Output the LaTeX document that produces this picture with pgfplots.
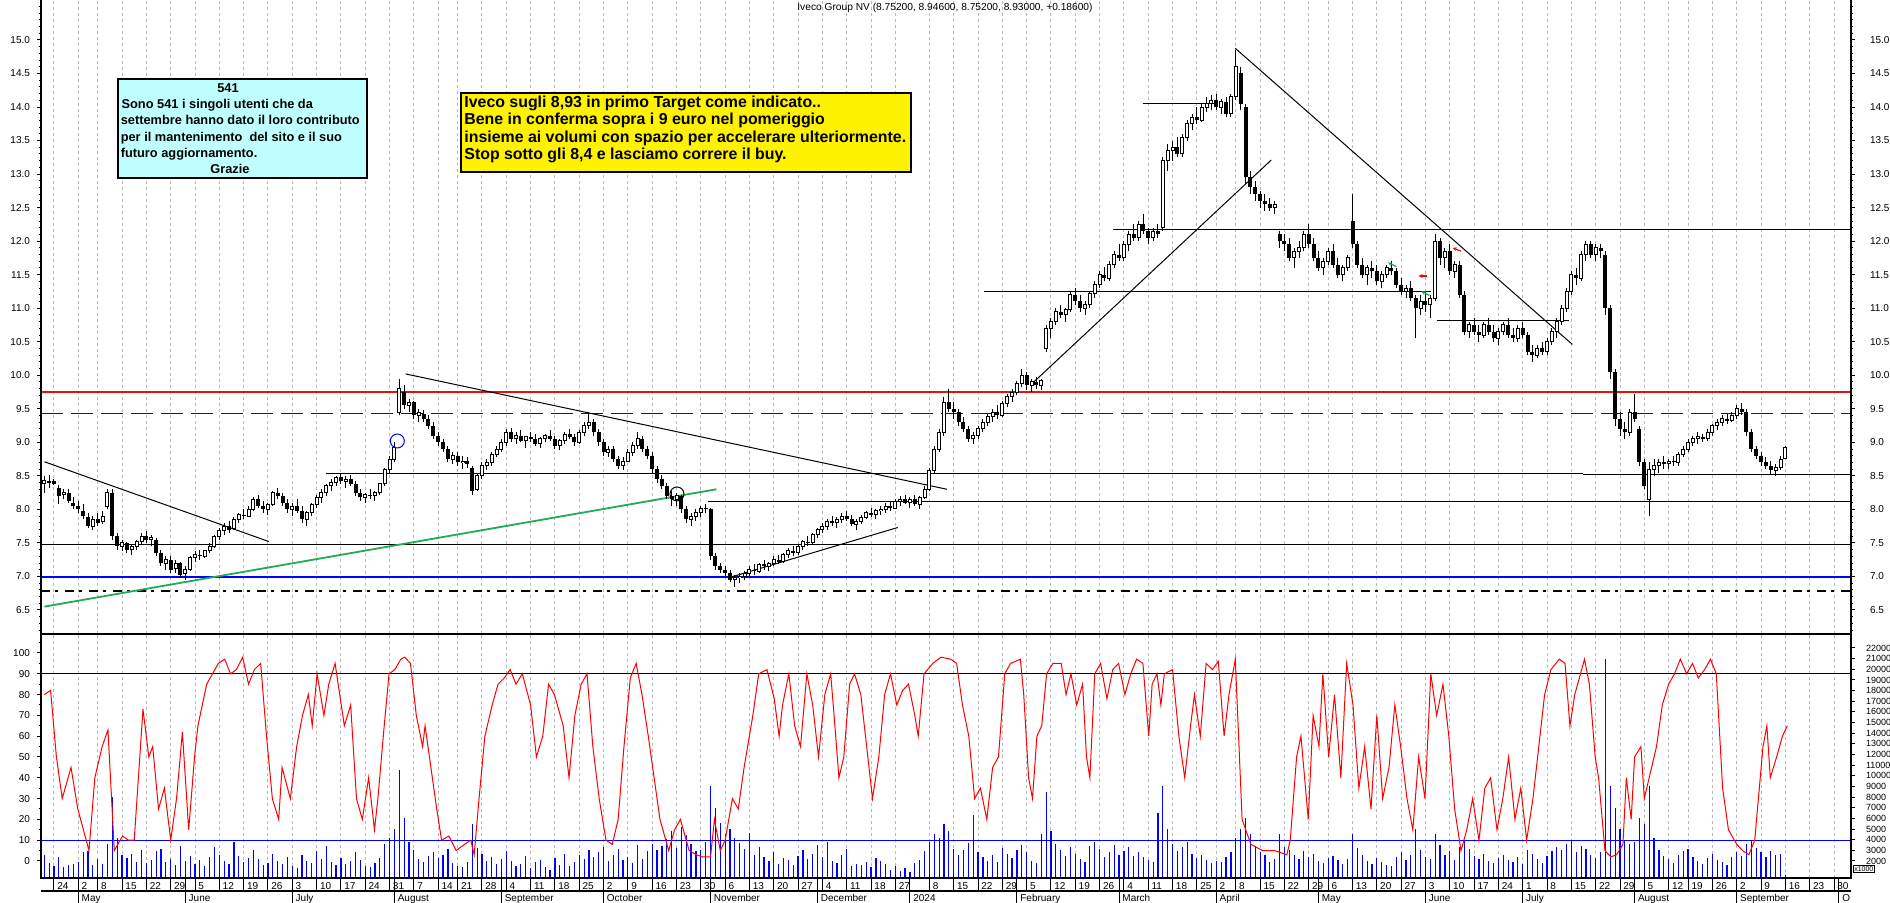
\documentclass[border=0pt]{standalone}
\usepackage{fontspec}
\setmainfont{Liberation Sans}
\usepackage{pgfplots}
\usepackage{pgfplotstable}
\pgfplotsset{compat=1.18}
\usetikzlibrary{arrows.meta}

\definecolor{boxcyan}{RGB}{192,255,255}
\definecolor{trendgreen}{RGB}{34,170,85}
\definecolor{gridgray}{RGB}{185,185,185}
\definecolor{hred}{RGB}{225,20,20}

% daily candles: d o h l c v  (d is shifted by +1 when plotted)
\pgfplotstableread{
d o h l c v
-3 8.38 8.50 8.25 8.43 2600
-2 8.43 8.52 8.32 8.40 1800
-1 8.42 8.46 8.36 8.38 1500
0 8.32 8.36 8.08 8.20 2400
1 8.22 8.30 8.15 8.25 1400
2 8.25 8.30 8.10 8.12 1600
3 8.10 8.18 8.00 8.05 1700
4 8.05 8.12 7.95 8.00 1900
5 7.98 8.08 7.85 7.90 2800
6 7.88 7.95 7.72 7.75 2900
7 7.75 7.90 7.70 7.85 1600
8 7.85 7.95 7.75 7.80 2200
9 7.82 7.98 7.78 7.90 1700
10 8.05 8.30 8.00 8.25 3600
11 8.25 8.30 7.55 7.60 8000
12 7.60 7.65 7.40 7.45 4200
13 7.45 7.55 7.38 7.50 2600
14 7.50 7.52 7.35 7.40 2300
15 7.40 7.48 7.32 7.45 2700
16 7.45 7.55 7.40 7.52 1900
17 7.52 7.65 7.48 7.60 3000
18 7.60 7.68 7.50 7.55 1800
19 7.55 7.62 7.45 7.58 2100
20 7.55 7.58 7.30 7.35 2900
21 7.35 7.40 7.15 7.20 3100
22 7.20 7.30 7.10 7.25 1900
23 7.25 7.30 7.05 7.10 2200
24 7.12 7.25 7.05 7.20 1600
25 7.20 7.22 6.98 7.02 3400
26 7.05 7.15 6.95 7.10 2000
27 7.10 7.30 7.08 7.28 2500
28 7.28 7.38 7.22 7.32 1700
29 7.32 7.40 7.25 7.30 2100
30 7.30 7.40 7.28 7.38 1500
31 7.38 7.50 7.35 7.45 2400
32 7.45 7.62 7.42 7.60 3300
33 7.60 7.72 7.55 7.68 2600
34 7.68 7.80 7.62 7.75 2000
35 7.75 7.82 7.65 7.70 1700
36 7.72 7.88 7.70 7.85 3800
37 7.85 7.95 7.80 7.92 2500
38 7.92 8.00 7.85 7.90 1900
39 7.90 8.05 7.88 8.00 2300
40 8.00 8.18 7.98 8.15 3000
41 8.15 8.22 8.02 8.05 2200
42 8.05 8.12 7.95 8.00 1600
43 8.00 8.10 7.92 8.08 1800
44 8.08 8.28 8.05 8.25 2700
45 8.25 8.32 8.15 8.20 2000
46 8.20 8.25 8.05 8.10 1700
47 8.10 8.15 7.95 8.00 2400
48 8.00 8.10 7.90 8.05 1500
49 8.05 8.15 7.95 7.98 1300
50 7.98 8.05 7.80 7.85 2600
51 7.85 7.98 7.75 7.95 2000
52 7.95 8.10 7.90 8.08 1800
53 8.08 8.22 8.02 8.18 2900
54 8.18 8.30 8.10 8.25 2200
55 8.25 8.38 8.20 8.35 3400
56 8.35 8.45 8.28 8.40 1900
57 8.40 8.50 8.35 8.48 1600
58 8.48 8.55 8.38 8.42 2300
59 8.42 8.50 8.32 8.45 1700
60 8.45 8.52 8.35 8.38 2000
61 8.38 8.42 8.20 8.25 2800
62 8.25 8.30 8.12 8.18 2100
63 8.18 8.25 8.10 8.22 1500
64 8.22 8.30 8.15 8.20 1400
65 8.20 8.28 8.12 8.25 1800
66 8.25 8.40 8.22 8.38 2300
67 8.38 8.62 8.35 8.60 3600
68 8.60 8.80 8.55 8.75 4200
69 8.75 9.00 8.70 8.92 5000
70 9.45 9.95 9.40 9.80 10500
71 9.75 9.85 9.50 9.55 6000
72 9.55 9.65 9.45 9.60 3800
73 9.60 9.62 9.35 9.40 3000
74 9.40 9.50 9.30 9.45 2200
75 9.42 9.48 9.30 9.35 1900
76 9.35 9.40 9.20 9.25 2500
77 9.25 9.30 9.05 9.10 2800
78 9.10 9.15 8.95 9.00 2300
79 9.00 9.05 8.85 8.90 2600
80 8.90 8.95 8.70 8.75 3100
81 8.75 8.85 8.68 8.80 1800
82 8.80 8.85 8.65 8.70 1500
83 8.70 8.80 8.60 8.72 1400
84 8.72 8.78 8.62 8.68 1900
85 8.62 8.65 8.22 8.28 5500
86 8.30 8.55 8.28 8.50 3200
87 8.50 8.70 8.45 8.65 2700
88 8.65 8.75 8.58 8.70 2000
89 8.70 8.85 8.65 8.82 2400
90 8.82 8.95 8.78 8.90 1700
91 8.90 9.05 8.85 9.00 2200
92 9.00 9.20 8.95 9.15 2900
93 9.15 9.22 9.00 9.05 2000
94 9.05 9.15 8.98 9.10 1500
95 9.10 9.18 9.00 9.02 1700
96 9.02 9.10 8.92 9.08 2500
97 9.08 9.15 9.00 9.05 1300
98 9.05 9.12 8.95 8.98 1900
99 8.98 9.08 8.92 9.05 2100
100 9.05 9.12 9.00 9.10 1400
101 9.10 9.18 9.02 9.05 1200
102 9.05 9.10 8.90 8.95 2300
103 8.95 9.05 8.88 9.02 1600
104 9.02 9.15 8.98 9.12 2700
105 9.12 9.20 9.05 9.08 1500
106 9.08 9.12 8.95 9.00 1900
107 9.00 9.18 8.98 9.15 2600
108 9.15 9.30 9.10 9.25 2200
109 9.25 9.45 9.20 9.30 3000
110 9.30 9.35 9.10 9.15 2400
111 9.15 9.20 8.95 9.00 2800
112 9.00 9.05 8.80 8.85 3300
113 8.85 8.95 8.78 8.90 2000
114 8.90 8.95 8.70 8.75 2600
115 8.75 8.80 8.60 8.65 3100
116 8.65 8.78 8.58 8.72 2100
117 8.72 8.90 8.70 8.85 2400
118 8.85 9.00 8.80 8.95 1800
119 8.95 9.15 8.90 9.05 3500
120 9.05 9.10 8.85 8.90 2200
121 8.90 8.95 8.75 8.80 2900
122 8.80 8.85 8.55 8.60 3600
123 8.60 8.65 8.40 8.45 3000
124 8.45 8.52 8.30 8.35 3400
125 8.35 8.40 8.15 8.20 4100
126 8.20 8.28 8.05 8.15 4800
127 8.15 8.25 8.05 8.20 3200
128 8.20 8.22 7.95 8.00 5200
129 8.00 8.05 7.80 7.85 4400
130 7.85 7.95 7.75 7.90 3600
131 7.90 8.00 7.82 7.95 2900
132 7.95 8.05 7.88 8.02 3000
133 8.02 8.08 7.95 8.00 3800
134 8.00 8.02 7.25 7.30 9000
135 7.30 7.35 7.10 7.15 7000
136 7.15 7.20 7.05 7.10 5600
137 7.10 7.15 7.00 7.05 4500
138 7.05 7.10 6.92 6.95 5000
139 6.95 7.02 6.85 6.98 4200
140 6.98 7.05 6.90 7.00 3700
141 7.00 7.08 6.95 7.05 3100
142 7.05 7.15 7.00 7.10 4600
143 7.10 7.18 7.02 7.08 2600
144 7.08 7.20 7.05 7.18 3300
145 7.18 7.25 7.10 7.15 2400
146 7.15 7.22 7.08 7.20 2000
147 7.20 7.30 7.15 7.25 2800
148 7.25 7.32 7.18 7.22 1700
149 7.22 7.35 7.20 7.32 2300
150 7.32 7.42 7.28 7.38 2100
151 7.38 7.45 7.30 7.35 1600
152 7.35 7.48 7.32 7.45 2500
153 7.45 7.55 7.40 7.52 3000
154 7.52 7.60 7.45 7.50 2200
155 7.50 7.65 7.48 7.62 2700
156 7.62 7.72 7.58 7.70 3500
157 7.70 7.80 7.65 7.75 2400
158 7.75 7.85 7.70 7.82 3800
159 7.82 7.90 7.75 7.80 2000
160 7.80 7.88 7.72 7.85 1800
161 7.85 7.95 7.80 7.90 2600
162 7.90 7.98 7.82 7.85 3100
163 7.85 7.92 7.75 7.78 1500
164 7.78 7.85 7.70 7.82 1700
165 7.82 7.92 7.78 7.88 1600
166 7.88 7.98 7.85 7.95 1900
167 7.95 8.02 7.88 7.92 1400
168 7.92 8.00 7.85 7.98 2300
169 7.98 8.05 7.92 8.00 2000
170 8.00 8.10 7.95 8.05 1700
171 8.05 8.12 7.98 8.02 1200
172 8.02 8.15 8.00 8.12 1500
173 8.12 8.20 8.05 8.15 1100
174 8.15 8.22 8.08 8.10 1300
175 8.10 8.18 8.02 8.15 1000
176 8.15 8.22 8.05 8.08 1800
177 8.08 8.20 8.00 8.18 2100
178 8.18 8.35 8.15 8.30 2900
179 8.30 8.62 8.28 8.58 3800
180 8.58 8.95 8.55 8.90 4500
181 8.90 9.20 8.85 9.15 4200
182 9.15 9.68 9.10 9.60 5500
183 9.60 9.80 9.45 9.50 4800
184 9.50 9.60 9.35 9.45 3100
185 9.45 9.50 9.25 9.30 2600
186 9.30 9.38 9.15 9.20 3000
187 9.20 9.25 9.00 9.05 3700
188 9.05 9.15 8.98 9.10 6300
189 9.10 9.25 9.05 9.20 2800
190 9.20 9.35 9.15 9.30 2400
191 9.30 9.42 9.25 9.38 2000
192 9.38 9.50 9.30 9.45 2600
193 9.45 9.55 9.35 9.40 1900
194 9.40 9.62 9.38 9.58 3200
195 9.58 9.72 9.52 9.68 2700
196 9.68 9.80 9.60 9.75 2300
197 9.75 9.92 9.70 9.88 3000
198 9.88 10.10 9.82 10.00 3500
199 10.00 10.05 9.78 9.85 2800
200 9.85 9.95 9.75 9.90 2000
201 9.90 9.98 9.80 9.85 1800
202 9.85 9.95 9.78 9.92 4500
203 10.40 10.75 10.35 10.70 8500
204 10.70 10.85 10.55 10.80 4800
205 10.80 11.00 10.75 10.95 3600
206 10.95 11.05 10.85 10.90 3000
207 10.90 11.00 10.80 10.98 2500
208 10.98 11.25 10.95 11.20 3300
209 11.20 11.30 11.05 11.10 2700
210 11.10 11.20 10.95 11.00 2200
211 11.00 11.10 10.90 11.05 1900
212 11.05 11.25 11.00 11.22 3400
213 11.22 11.40 11.15 11.35 3800
214 11.35 11.55 11.30 11.50 3100
215 11.50 11.62 11.40 11.45 2400
216 11.45 11.70 11.40 11.65 2800
217 11.65 11.85 11.60 11.80 3500
218 11.80 11.95 11.70 11.75 2600
219 11.75 12.00 11.70 11.95 2900
220 11.95 12.15 11.85 12.10 3300
221 12.10 12.25 12.00 12.05 2500
222 12.05 12.30 12.00 12.25 2800
223 12.25 12.40 12.10 12.15 2400
224 12.15 12.20 11.95 12.05 2100
225 12.05 12.20 12.00 12.15 1900
226 12.15 12.25 12.05 12.10 6500
227 12.20 13.25 12.15 13.20 9000
228 13.20 13.45 13.05 13.35 5000
229 13.35 13.50 13.20 13.40 3600
230 13.40 13.55 13.25 13.30 2900
231 13.30 13.60 13.25 13.55 3300
232 13.55 13.80 13.50 13.75 3800
233 13.75 13.90 13.65 13.85 2700
234 13.85 14.00 13.75 13.80 2300
235 13.80 14.05 13.78 14.00 2600
236 14.00 14.15 13.92 14.05 2100
237 14.05 14.18 13.95 14.10 1800
238 14.10 14.20 13.95 14.00 2000
239 14.00 14.12 13.90 14.08 1900
240 14.08 14.15 13.85 13.90 2400
241 13.90 14.20 13.85 14.15 2800
242 14.15 14.85 14.10 14.60 4200
243 14.50 14.60 13.95 14.05 5000
244 14.00 14.05 12.85 12.95 6000
245 12.95 13.05 12.70 12.80 4500
246 12.80 12.90 12.60 12.70 3400
247 12.70 12.75 12.50 12.60 2800
248 12.60 12.70 12.45 12.55 2600
249 12.55 12.65 12.45 12.50 1900
250 12.50 12.60 12.40 12.55 2200
251 12.10 12.15 11.90 12.00 4500
252 12.00 12.10 11.85 11.95 3300
253 11.95 12.05 11.70 11.75 3000
254 11.75 11.90 11.60 11.85 2600
255 11.85 12.00 11.75 11.90 2200
256 11.90 12.15 11.85 12.10 2900
257 12.10 12.25 11.90 11.95 2400
258 11.95 12.05 11.70 11.75 2700
259 11.75 11.85 11.55 11.60 2000
260 11.60 11.75 11.50 11.70 1800
261 11.70 11.90 11.65 11.85 2300
262 11.85 11.95 11.60 11.65 2500
263 11.65 11.75 11.45 11.50 2100
264 11.50 11.65 11.40 11.60 1700
265 11.60 11.80 11.55 11.75 2200
266 12.30 12.70 11.90 11.95 4500
267 11.95 12.00 11.60 11.65 3200
268 11.65 11.75 11.45 11.50 2600
269 11.50 11.65 11.35 11.60 2000
270 11.60 11.70 11.45 11.55 1700
271 11.55 11.65 11.35 11.40 2300
272 11.40 11.55 11.30 11.50 1900
273 11.50 11.65 11.45 11.60 1600
274 11.60 11.70 11.50 11.55 1500
275 11.55 11.60 11.30 11.35 2400
276 11.35 11.45 11.20 11.25 2800
277 11.25 11.35 11.15 11.30 2100
278 11.30 11.40 11.10 11.15 2600
279 11.15 11.20 10.55 11.00 5000
280 11.00 11.20 10.90 11.10 3000
281 11.10 11.25 10.95 11.05 2400
282 11.05 11.20 10.85 11.15 2200
283 11.15 12.10 11.10 12.00 4500
284 12.00 12.05 11.65 11.75 3500
285 11.75 11.90 11.60 11.85 2600
286 11.85 11.95 11.50 11.55 2900
287 11.55 11.70 11.45 11.65 2100
288 11.65 11.70 11.15 11.20 3300
289 11.20 11.25 10.60 10.65 4000
290 10.65 10.80 10.55 10.75 3100
291 10.75 10.85 10.60 10.65 2500
292 10.65 10.75 10.50 10.60 2200
293 10.60 10.80 10.55 10.75 2700
294 10.75 10.85 10.60 10.65 2000
295 10.65 10.75 10.50 10.55 1800
296 10.55 10.70 10.45 10.65 2300
297 10.65 10.80 10.60 10.75 2600
298 10.75 10.85 10.55 10.60 2100
299 10.60 10.70 10.50 10.55 1900
300 10.55 10.75 10.50 10.70 2400
301 10.70 10.80 10.55 10.60 1700
302 10.60 10.65 10.30 10.35 3000
303 10.35 10.45 10.20 10.30 2700
304 10.30 10.45 10.25 10.40 2200
305 10.40 10.50 10.30 10.35 1800
306 10.35 10.55 10.30 10.50 2500
307 10.50 10.70 10.45 10.65 2900
308 10.65 10.85 10.55 10.80 3300
309 10.80 11.05 10.75 11.00 3000
310 11.00 11.30 10.95 11.25 3600
311 11.25 11.55 11.20 11.50 3900
312 11.50 11.60 11.35 11.45 2800
313 11.45 11.85 11.40 11.80 3400
314 11.80 12.00 11.70 11.95 3100
315 11.95 12.00 11.75 11.80 2600
316 11.80 11.95 11.70 11.90 2300
317 11.90 11.95 11.75 11.85 2800
318 11.80 11.85 10.90 11.00 21000
319 11.00 11.05 9.95 10.05 9000
320 10.05 10.10 9.25 9.35 7000
321 9.35 9.45 9.10 9.20 5000
322 9.20 9.30 9.05 9.15 4000
323 9.15 9.50 9.10 9.45 3600
324 9.45 9.72 9.30 9.35 3800
325 9.20 9.25 8.65 8.70 6000
326 8.70 8.75 8.30 8.35 5500
327 8.15 8.70 7.90 8.60 9000
328 8.60 8.75 8.50 8.65 4200
329 8.65 8.75 8.55 8.70 3000
330 8.70 8.80 8.60 8.68 2500
331 8.68 8.75 8.60 8.72 2200
332 8.72 8.80 8.65 8.70 1800
333 8.70 8.85 8.65 8.82 2600
334 8.82 8.95 8.78 8.90 2900
335 8.90 9.05 8.85 9.00 3100
336 9.00 9.10 8.95 9.05 2400
337 9.05 9.15 8.98 9.08 2000
338 9.08 9.12 9.00 9.05 1700
339 9.05 9.20 9.02 9.15 2300
340 9.15 9.28 9.10 9.25 2700
341 9.25 9.35 9.18 9.30 2100
342 9.30 9.40 9.25 9.35 1900
343 9.35 9.42 9.28 9.32 1600
344 9.32 9.45 9.30 9.40 2400
345 9.40 9.55 9.35 9.50 2800
346 9.50 9.58 9.40 9.45 2500
347 9.45 9.50 9.10 9.15 3600
348 9.15 9.20 8.85 8.90 4000
349 8.90 8.95 8.75 8.80 3200
350 8.80 8.85 8.65 8.70 2800
351 8.70 8.78 8.60 8.65 2400
352 8.65 8.72 8.52 8.58 2900
353 8.58 8.68 8.50 8.62 2600
354 8.62 8.80 8.58 8.75 2700
355 8.752 8.946 8.752 8.93 700
}\candles

% oscillator (red line)
\pgfplotstableread{
d s
-3.0 80
-1.7 82
-0.5 50
0.7 30
2.5 45
3.9 25
6.2 5
7.4 40
8.9 55
10.1 63
11.4 5
13.1 12
14.3 10
15.5 10
17.3 73
18.5 50
19.3 55
20.5 25
21.7 35
23.0 10
24.2 30
25.4 62
26.7 15
27.9 50
28.6 65
30.4 85
31.6 90
32.8 95
34.1 97
35.3 90
36.5 92
37.8 98
39.0 85
40.2 92
41.5 95
42.7 60
43.9 30
45.2 20
45.9 45
47.6 30
48.9 55
50.1 70
51.3 80
52.1 65
53.1 90
54.5 70
55.5 85
56.8 95
58.7 65
60.0 75
61.2 30
62.4 20
63.7 40
64.9 15
65.6 30
66.9 65
67.9 90
69.1 92
70.3 97
71.1 98
72.3 95
73.5 70
74.8 55
75.3 65
76.8 40
77.7 25
78.7 10
80.2 12
81.7 5
83.4 8
84.7 10
85.4 3
86.4 30
87.6 60
89.1 75
90.3 85
91.6 88
92.8 92
94.0 85
95.3 90
97.0 75
98.2 50
99.5 60
100.7 85
101.9 80
103.7 65
104.9 40
106.1 70
107.4 85
108.6 90
109.8 55
111.1 30
112.5 10
113.8 8
115.0 20
116.2 55
117.5 88
118.7 95
119.9 80
121.2 60
122.4 40
123.6 20
125.4 5
126.6 15
127.8 20
129.6 5
131.1 3
132.3 2
134.0 2
134.8 20
136.0 5
137.0 10
138.5 30
139.7 25
140.9 45
142.7 70
143.9 90
145.6 92
147.1 78
148.1 60
148.8 75
150.1 90
151.3 65
152.5 55
153.8 90
155.0 75
156.2 50
157.5 80
158.7 90
159.4 70
160.4 40
161.4 50
162.6 85
163.6 90
164.9 80
166.1 55
167.3 30
168.6 50
169.8 80
171.0 90
172.3 75
173.5 82
174.7 85
176.0 70
176.7 60
177.9 90
179.7 95
181.4 98
183.4 97
184.6 95
185.8 75
187.1 60
188.3 30
189.5 35
190.8 20
192.0 45
193.2 50
194.5 90
195.7 95
197.7 97
198.4 80
199.4 40
200.2 30
201.1 60
202.1 65
203.1 90
204.4 95
206.1 95
207.1 80
208.1 90
209.3 75
210.5 85
211.3 50
212.0 40
213.0 90
214.2 95
215.5 78
216.7 92
217.9 95
219.2 80
220.4 90
221.6 97
222.9 95
224.1 60
224.8 85
225.8 90
226.6 75
227.3 90
229.0 92
230.3 60
231.5 40
232.7 65
233.5 80
234.7 60
235.9 95
237.2 92
238.4 96
239.6 60
240.6 80
241.9 97
243.3 20
245.1 8
247.5 5
250.0 5
252.5 3
253.2 10
254.5 50
255.4 60
256.9 20
257.9 70
259.1 55
259.9 90
261.1 50
262.3 80
263.6 40
264.8 95
266.1 75
267.3 35
268.5 55
269.8 25
271.0 70
272.2 30
273.5 45
274.7 75
275.9 55
277.2 30
278.4 15
279.6 50
280.9 30
282.1 90
283.3 70
284.6 85
285.8 60
287.0 25
288.3 5
289.5 15
290.7 30
292.0 10
293.2 35
294.4 40
295.7 15
296.9 30
298.1 50
299.4 20
300.6 35
301.8 10
303.1 30
304.3 55
305.5 80
306.8 92
308.5 97
309.7 95
310.7 65
311.7 80
313.7 97
314.7 85
315.9 50
316.6 40
317.9 5
319.1 2
320.3 3
321.6 8
322.3 40
323.3 20
324.0 50
325.3 55
326.0 30
327.0 40
328.5 55
329.7 75
331.0 85
332.2 90
333.4 97
334.7 90
335.9 95
337.1 88
338.4 92
339.6 97
340.8 90
342.1 35
343.3 15
345.0 8
346.2 5
347.5 3
348.7 10
350.4 55
351.2 65
351.9 40
353.2 50
354.4 60
355.4 65
}\stoch

\pgfplotsset{
  base/.style={
    scale only axis, width=905pt, anchor=south west,
    xmin=-2.67, xmax=369.5,
    axis line style={draw=none},
    tick align=outside,
    tick style={black, line width=0.5pt},
    major tick length=2pt, minor tick length=1pt,
    /pgf/number format/assume math mode=true,
    tick label style={font=\fontsize{5}{6}\selectfont},
  },
  weeks/.style={xtick={0,5,9,14,19,24,29,34,39,44,49,54,59,64,69,74,79,83,88,93,98,103,108,113,118,123,128,133,138,143,148,153,158,163,168,173,180,185,190,195,200,205,210,215,220,225,230,235,239,243,248,253,258,262,267,272,277,282,287,292,297,302,307,312,317,322,327,332,336,341,346,351,356,361,366}},
  wgrid/.style={weeks, xmajorgrids, xticklabels={},
    major x grid style={gridgray, line width=0.5pt, dash pattern=on 1.5pt off 1.5pt}},
  candle/.style={draw=none, mark=none, forget plot,
    error bars/y dir=plus, error bars/y explicit, error bars/error mark=none},
  pricey/.style={ymin=6.142, ymax=15.596, ytick={6.5,7,...,15}, minor ytick={6.2,6.3,...,15.5},
    yticklabel style={/pgf/number format/fixed, /pgf/number format/fixed zerofill, /pgf/number format/precision=1}},
}

\begin{document}
\begin{tikzpicture}
\useasboundingbox (0,0) rectangle (945pt,451.5pt);

% ---------- price panel ----------
\begin{axis}[base, wgrid, pricey, xtick pos=top, at={(20.5pt,134.5pt)}, height=317pt, ytick pos=left]
\draw[hred, line width=0.8pt] (axis cs:-2.67,9.75) -- (axis cs:369.5,9.75);
\draw[blue, line width=0.8pt, dash pattern=on 11pt off 4pt] (axis cs:-2.67,9.43) -- (axis cs:369.5,9.43);
\draw[black, line width=0.5pt] (axis cs:217.7,12.17) -- (axis cs:369.5,12.17);
\draw[black, line width=0.5pt] (axis cs:191.3,11.25) -- (axis cs:283.1,11.25);
\draw[black, line width=0.5pt] (axis cs:223.9,14.05) -- (axis cs:238.7,14.05);
\draw[black, line width=0.5pt] (axis cs:284.3,10.82) -- (axis cs:311.5,10.82);
\draw[black, line width=0.5pt] (axis cs:56,8.54) -- (axis cs:314.4,8.54);
\draw[black, line width=0.5pt] (axis cs:314.4,8.52) -- (axis cs:369.5,8.52);
\draw[black, line width=0.5pt] (axis cs:134.5,8.12) -- (axis cs:369.5,8.12);
\draw[black, line width=0.5pt] (axis cs:-2.67,7.47) -- (axis cs:369.5,7.47);
\draw[blue, line width=1.1pt] (axis cs:-2.67,6.99) -- (axis cs:369.5,6.99);
\draw[black, line width=0.8pt, dash pattern=on 4.5pt off 2.5pt on 1.5pt off 3.5pt] (axis cs:-2.67,6.78) -- (axis cs:369.5,6.78);
% trend lines
\draw[black, line width=0.5pt] (axis cs:-1.97,8.71) -- (axis cs:44.2,7.52);
\draw[black, line width=0.5pt] (axis cs:72.3,10.02) -- (axis cs:183.6,8.30);
\draw[black, line width=0.5pt] (axis cs:138.7,6.98) -- (axis cs:173.5,7.73);
\draw[trendgreen, line width=0.9pt] (axis cs:-1.97,6.55) -- (axis cs:136.2,8.30);
\draw[black, line width=0.5pt] (axis cs:201.1,9.875) -- (axis cs:250.3,13.21);
\draw[black, line width=0.5pt] (axis cs:242.9,14.875) -- (axis cs:312.2,10.46);
% candles: wicks, falling bodies, rising bodies (outline + white inside)
\addplot[candle, error bars/error bar style={draw=black, line width=0.5pt}]
  table[x expr=\thisrow{d}+1, y=l, y error expr=\thisrow{h}-\thisrow{l}] {\candles};
\addplot[candle, restrict expr to domain={\thisrow{o}-\thisrow{c}}{0.0001:100},
  error bars/error bar style={draw=black, line width=2pt}]
  table[x expr=\thisrow{d}+1, y=c, y error expr=\thisrow{o}-\thisrow{c}] {\candles};
\addplot[candle, restrict expr to domain={\thisrow{c}-\thisrow{o}}{0:100},
  error bars/error bar style={draw=black, line width=2pt}]
  table[x expr=\thisrow{d}+1, y expr=\thisrow{o}-0.0074, y error expr=\thisrow{c}-\thisrow{o}+0.0148] {\candles};
\addplot[candle, restrict expr to domain={\thisrow{c}-\thisrow{o}}{0.0149:100},
  error bars/error bar style={draw=white, line width=1pt}]
  table[x expr=\thisrow{d}+1, y expr=\thisrow{o}+0.0074, y error expr=\thisrow{c}-\thisrow{o}-0.0148] {\candles};
% annotations
\draw[blue, line width=0.5pt] (axis cs:70.6,9.02) circle[radius=3.5pt];
\draw[black, line width=0.5pt] (axis cs:128.1,8.23) circle[radius=3.5pt];
\draw[-{Stealth[length=2pt,width=2pt]}, trendgreen, line width=0.6pt] (axis cs:276,11.62) -- (axis cs:274.3,11.68);
\draw[-{Stealth[length=2pt,width=2pt]}, red, line width=0.6pt] (axis cs:282.4,11.48) -- (axis cs:280.6,11.48);
\draw[-{Stealth[length=2pt,width=2pt]}, trendgreen, line width=0.6pt] (axis cs:282.8,11.19) -- (axis cs:281.2,11.25);
\draw[-{Stealth[length=2pt,width=2pt]}, red, line width=0.6pt] (axis cs:289.3,11.85) -- (axis cs:287.6,11.9);
\end{axis}

% right price labels
\begin{axis}[base, pricey, xtick=\empty, at={(20.5pt,134.5pt)}, height=317pt,
  ytick pos=right, yticklabel pos=right, yticklabel style={xshift=4pt}]
\end{axis}

% ---------- volume (drawn first, behind the oscillator) ----------
\begin{axis}[base, wgrid, xtick pos=bottom, at={(20.5pt,12.5pt)}, height=122pt,
  ymin=404, ymax=23315, ytick={2000,3000,...,22000}, ytick pos=right, yticklabel pos=right,
  scaled y ticks=false, /pgf/number format/1000 sep={},
  yticklabel style={font=\fontsize{4.5}{5}\selectfont, xshift=2pt}]
\addplot[ycomb, blue, line width=0.6pt] table[x expr=\thisrow{d}+1, y=v] {\candles};
\end{axis}

% ---------- oscillator ----------
\begin{axis}[base, xtick=\empty, at={(20.5pt,12.5pt)}, height=122pt,
  ymin=-8.17, ymax=109.13, ytick={0,10,...,100}, minor ytick={5,15,...,105}, ytick pos=left]
\draw[black, line width=0.5pt] (axis cs:-2.67,90) -- (axis cs:369.5,90);
\draw[blue, line width=0.5pt] (axis cs:-2.67,10) -- (axis cs:369.5,10);
\addplot[red, line width=0.5pt] table[x expr=\thisrow{d}+1, y=s] {\stoch};
\end{axis}

% ---------- date rows ----------
\begin{axis}[base, weeks, at={(20.5pt,12.5pt)}, height=122pt, ymin=0, ymax=1, ytick=\empty,
  xtick pos=bottom, major tick length=6.5pt,
  xticklabels={24,2,8,15,22,29,5,12,19,26,3,10,17,24,31,7,14,21,28,4,11,18,25,2,9,16,23,30,6,13,20,27,4,11,18,27,8,15,22,29,5,12,19,26,4,11,18,25,2,8,15,22,29,6,13,20,27,3,10,17,24,1,8,15,22,29,5,12,19,26,2,9,16,23,30},
  xticklabel style={anchor=north west, inner sep=0pt, xshift=1.5pt, yshift=4.5pt},
  extra x ticks={5,27,49,70,92,113,135,157,176,198,219,239,260,282,302,325,346,367},
  extra x tick labels={May,June,July,August,September,October,November,December,2024,February,March,April,May,June,July,August,September,O},
  extra x tick style={major tick length=12.5pt}]
\end{axis}

% frames
\draw[black, line width=0.7pt] (20.5pt,451.5pt) -- (20.5pt,12.5pt) -- (925.5pt,12.5pt) -- (925.5pt,451.5pt);
\draw[black, line width=0.7pt] (20.5pt,134.5pt) -- (925.5pt,134.5pt);
\draw[black, line width=0.6pt] (20.5pt,6pt) -- (925.5pt,6pt);

% title
\node[anchor=west, inner sep=0pt, font=\fontsize{5.1}{6}\selectfont] at (398.5pt,447.5pt)
  {Iveco Group NV (8.75200, 8.94600, 8.75200, 8.93000, +0.18600)};

% cyan box
\draw[line width=0.8pt, fill=boxcyan] (59pt,362.5pt) rectangle (183.5pt,412pt);
\begin{scope}[every node/.style={inner sep=0pt, font=\bfseries\fontsize{6.4}{7}\selectfont}]
\node[anchor=base] at (114pt,405.3pt) {541};
\node[anchor=base west] at (60.6pt,397.4pt) {Sono 541 i singoli utenti che da};
\node[anchor=base west] at (60.2pt,389.2pt) {settembre hanno dato il loro contributo};
\node[anchor=base west] at (60.2pt,380.9pt) {per il mantenimento\ \ del sito e il suo};
\node[anchor=base west] at (60.2pt,372.7pt) {futuro aggiornamento.};
\node[anchor=base] at (115pt,364.6pt) {Grazie};
\end{scope}

% yellow box
\draw[line width=0.8pt, fill=yellow] (230.5pt,365.5pt) rectangle (455.5pt,405pt);
\begin{scope}[every node/.style={inner sep=0pt, anchor=base west, font=\bfseries\fontsize{7.95}{8}\selectfont}]
\node at (232pt,397.6pt) {Iveco sugli 8,93 in primo Target come indicato..};
\node at (232pt,389.0pt) {Bene in conferma sopra i 9 euro nel pomeriggio};
\node at (232pt,380.4pt) {insieme ai volumi con spazio per accelerare ulteriormente.};
\node at (232pt,371.8pt) {Stop sotto gli 8,4 e lasciamo correre il buy.};
\end{scope}

% x1000 marker
\node[draw, line width=0.3pt, inner sep=0.5pt, font=\fontsize{3.5}{4}\selectfont, anchor=west] at (926.5pt,17pt) {x1000};
\end{tikzpicture}
\end{document}
